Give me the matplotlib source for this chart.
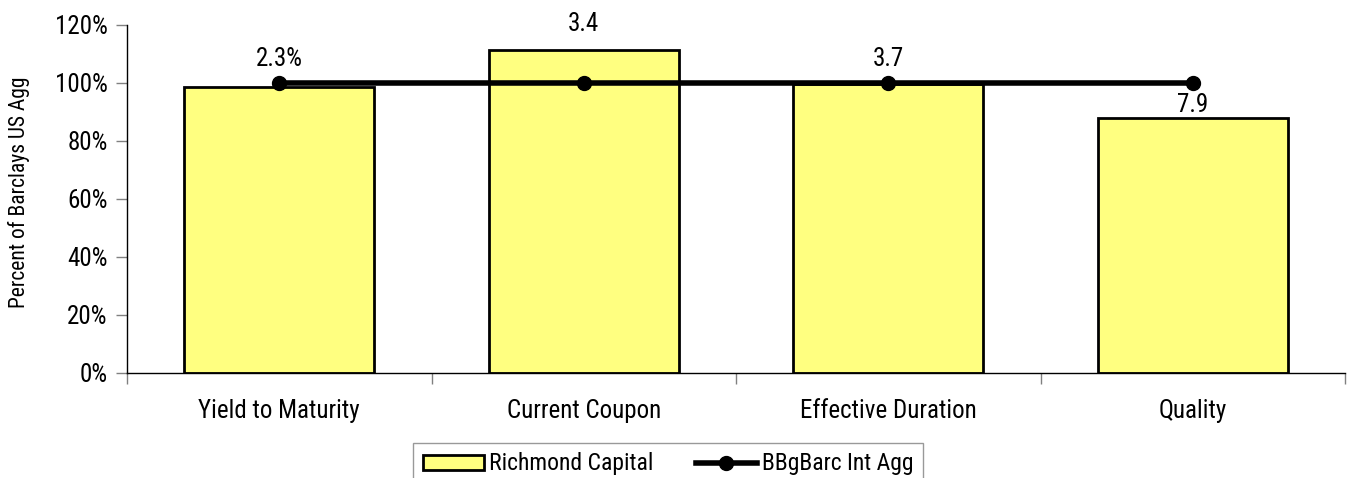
import matplotlib
matplotlib.use("Agg")
import matplotlib.pyplot as plt
from matplotlib.ticker import FuncFormatter

categories = ["Yield to Maturity", "Current Coupon", "Effective Duration", "Quality"]
richmond = [98.7, 111.3, 99.5, 87.8]
bench = [100, 100, 100, 100]
labels = ["2.3%", "3.4", "3.7", "7.9"]
yticks = [0, 20, 40, 60, 80, 100, 120]

plt.rcParams['font.family'] = ['Liberation Sans Narrow', 'Roboto Condensed', 'DejaVu Sans Condensed',
                               'Arial Narrow', 'Liberation Sans', 'DejaVu Sans']
plt.rcParams['font.stretch'] = 'condensed'

fig = plt.figure(figsize=(13.48, 4.78), dpi=100)
ax = fig.add_axes([127/1348, 1-373/478, (1345-127)/1348, (373-25)/478])

x = list(range(len(categories)))
bars = ax.bar(x, richmond, width=0.625, color="#FFFF80", edgecolor="black", linewidth=2,
              label="Richmond Capital", zorder=2)
ax.plot(x, bench, color="black", linewidth=4, marker="o", markersize=10,
        label="BBgBarc Int Agg", zorder=3)

offsets = [9, 10, 9, 1]  # label gap in points above bar/line
for i, (v, b, t) in enumerate(zip(richmond, bench, labels)):
    base = v if i == 3 else max(v, b)
    ax.annotate(t, (i, base), xytext=(0, offsets[i]), textcoords="offset points",
                ha="center", va="bottom", fontsize=18, zorder=4)

ax.set_xlim(-0.5, len(categories) - 0.5)
ax.set_ylim(0, 120)
ax.set_yticks(yticks)
ax.yaxis.set_major_formatter(FuncFormatter(lambda v, p: f"{v:.0f}%"))
ax.set_xticks(x)
ax.set_xticklabels(categories, fontsize=18)
ax.set_xticks([i - 0.5 for i in range(len(categories) + 1)], minor=True)
ax.tick_params(axis="x", which="major", length=0, pad=19)
ax.tick_params(axis="x", which="minor", length=8, width=1, color="#808080", direction="out")
ax.tick_params(axis="y", labelsize=18, length=8, width=1, color="#808080", pad=6)
ax.spines["top"].set_visible(False)
ax.spines["right"].set_visible(False)
ax.spines["left"].set_linewidth(1)
ax.spines["bottom"].set_linewidth(1)
ax.set_ylabel("Percent of Barclays US Agg", fontsize=15.5)
ax.yaxis.set_label_coords(-0.08, 0.52)

leg = fig.legend(handles=[bars, ax.lines[0]], labels=["Richmond Capital", "BBgBarc Int Agg"],
                 loc="upper center", bbox_to_anchor=(668/1348, 1-443/478), ncol=2,
                 fontsize=17, frameon=True, fancybox=False, edgecolor="#808080",
                 handlelength=2.6, handleheight=0.6, handletextpad=0.2, columnspacing=1.8,
                 borderpad=0.4, borderaxespad=0)
leg.get_frame().set_linewidth(1)

fig.savefig("out.png", dpi=100)
